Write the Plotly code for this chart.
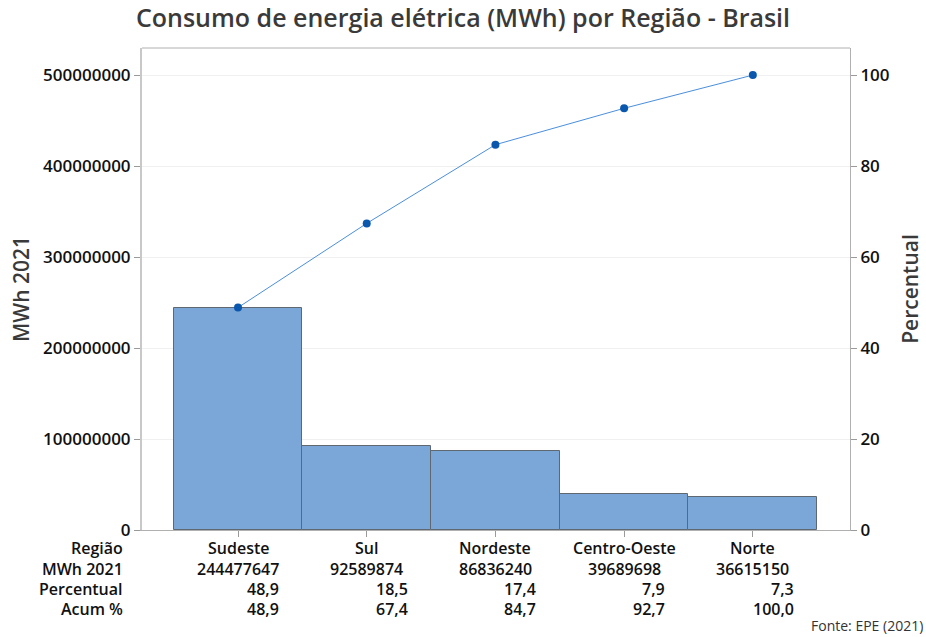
import plotly.graph_objects as go

regioes = ["Sudeste", "Sul", "Nordeste", "Centro-Oeste", "Norte"]
mwh_2021 = [244477647, 92589874, 86836240, 39689698, 36615150]
percentual = [48.9, 18.5, 17.4, 7.9, 7.3]
acum_pct = [48.9, 67.4, 84.7, 92.7, 100.0]
y_ticks_left = [0, 100000000, 200000000, 300000000, 400000000, 500000000]
y_ticks_right = [0, 20, 40, 60, 80, 100]

total = sum(mwh_2021)
left_max = 530e6
right_max = left_max / total * 100

FONT = "Open Sans"
xs = list(range(len(regioes)))

W, H = 926, 637
ML, MR, MT, MB = 142, 76, 48, 107
PW, PH = W - ML - MR, H - MT - MB

fig = go.Figure()
fig.add_trace(go.Bar(
    x=xs, y=mwh_2021, width=1.0,
    marker=dict(color="#7BA6D8", line=dict(color="#5f6770", width=1)),
    hoverinfo="skip", showlegend=False,
))
fig.add_trace(go.Scatter(
    x=xs, y=acum_pct, yaxis="y2", mode="lines+markers",
    line=dict(color="#4A8FDB", width=1),
    marker=dict(color="#0A57AE", size=8),
    showlegend=False,
))

fig.update_layout(
    width=W, height=H,
    margin=dict(l=ML, r=MR, t=MT, b=MB, autoexpand=False),
    paper_bgcolor="white", plot_bgcolor="white",
    title=dict(text="Consumo de energia elétrica (MWh) por Região - Brasil",
               x=0.5, xanchor="center", xref="container",
               y=1 - 18 / H, yanchor="middle", yref="container",
               font=dict(family=FONT, size=25, color="#3a3a3a", weight=600)),
    bargap=0,
    xaxis=dict(range=[-0.746, 4.755], tickvals=xs, ticktext=["" for _ in xs],
               ticks="outside", ticklen=6, tickcolor="#9a9a9a",
               showline=True, linecolor="#b0b0b0", linewidth=1,
               showgrid=False, zeroline=False, fixedrange=True),
    yaxis=dict(range=[0, left_max], tickvals=y_ticks_left,
               ticktext=[str(v) for v in y_ticks_left],
               ticks="outside", ticklen=6, tickcolor="#9a9a9a",
               showline=True, linecolor="#c8c8c8", linewidth=2,
               showgrid=True, gridcolor="#f0f0f0", gridwidth=1, zeroline=False,
               tickfont=dict(family=FONT, size=17, color="#111", weight=600),
               title=dict(text="MWh 2021", standoff=8,
                          font=dict(family=FONT, size=21, color="#3a3a3a", weight=600))),
    yaxis2=dict(range=[0, right_max], tickvals=y_ticks_right,
                ticktext=[str(v) for v in y_ticks_right],
                overlaying="y", side="right",
                ticks="outside", ticklen=6, tickcolor="#9a9a9a",
                showline=True, linecolor="#b0b0b0", linewidth=1,
                showgrid=False, zeroline=False,
                tickfont=dict(family=FONT, size=17, color="#111", weight=600),
                title=dict(text="Percentual", standoff=14,
                           font=dict(family=FONT, size=21, color="#3a3a3a", weight=600))),
)

# top frame line
fig.add_shape(type="line", xref="paper", yref="paper", x0=0, x1=1, y0=1, y1=1,
              line=dict(color="#b0b0b0", width=1))

tfont = dict(family=FONT, size=16, color="#111", weight=600)
row_y = [548, 569, 589, 609]
row_labels = ["Região", "MWh 2021", "Percentual", "Acum %"]


def ypaper(py):
    return (H - MB - py) / PH


for lab, py in zip(row_labels, row_y):
    fig.add_annotation(text=lab, xref="paper", yref="paper",
                       x=(125 - ML) / PW, y=ypaper(py), xanchor="right",
                       yanchor="middle", showarrow=False, font=tfont)

for i in xs:
    fig.add_annotation(text=regioes[i], xref="x", yref="paper", x=i, y=ypaper(row_y[0]),
                       xanchor="center", yanchor="middle", showarrow=False, font=tfont)
    fig.add_annotation(text=str(mwh_2021[i]), xref="x", yref="paper", x=i, y=ypaper(row_y[1]),
                       xanchor="center", yanchor="middle", showarrow=False, font=tfont)
    fig.add_annotation(text=f"{percentual[i]:.1f}".replace(".", ","), xref="x", yref="paper",
                       x=i, y=ypaper(row_y[2]), xanchor="right", xshift=43,
                       yanchor="middle", showarrow=False, font=tfont)
    fig.add_annotation(text=f"{acum_pct[i]:.1f}".replace(".", ","), xref="x", yref="paper",
                       x=i, y=ypaper(row_y[3]), xanchor="right", xshift=43,
                       yanchor="middle", showarrow=False, font=tfont)

fig.add_annotation(text="Fonte: EPE (2021)", xref="paper", yref="paper",
                   x=(925 - ML) / PW, y=ypaper(625), xanchor="right", yanchor="middle",
                   showarrow=False, font=dict(family=FONT, size=14, color="#333"))

fig.write_html("out.html", config={"displayModeBar": False},
               post_script="document.body.style.margin='0';")
